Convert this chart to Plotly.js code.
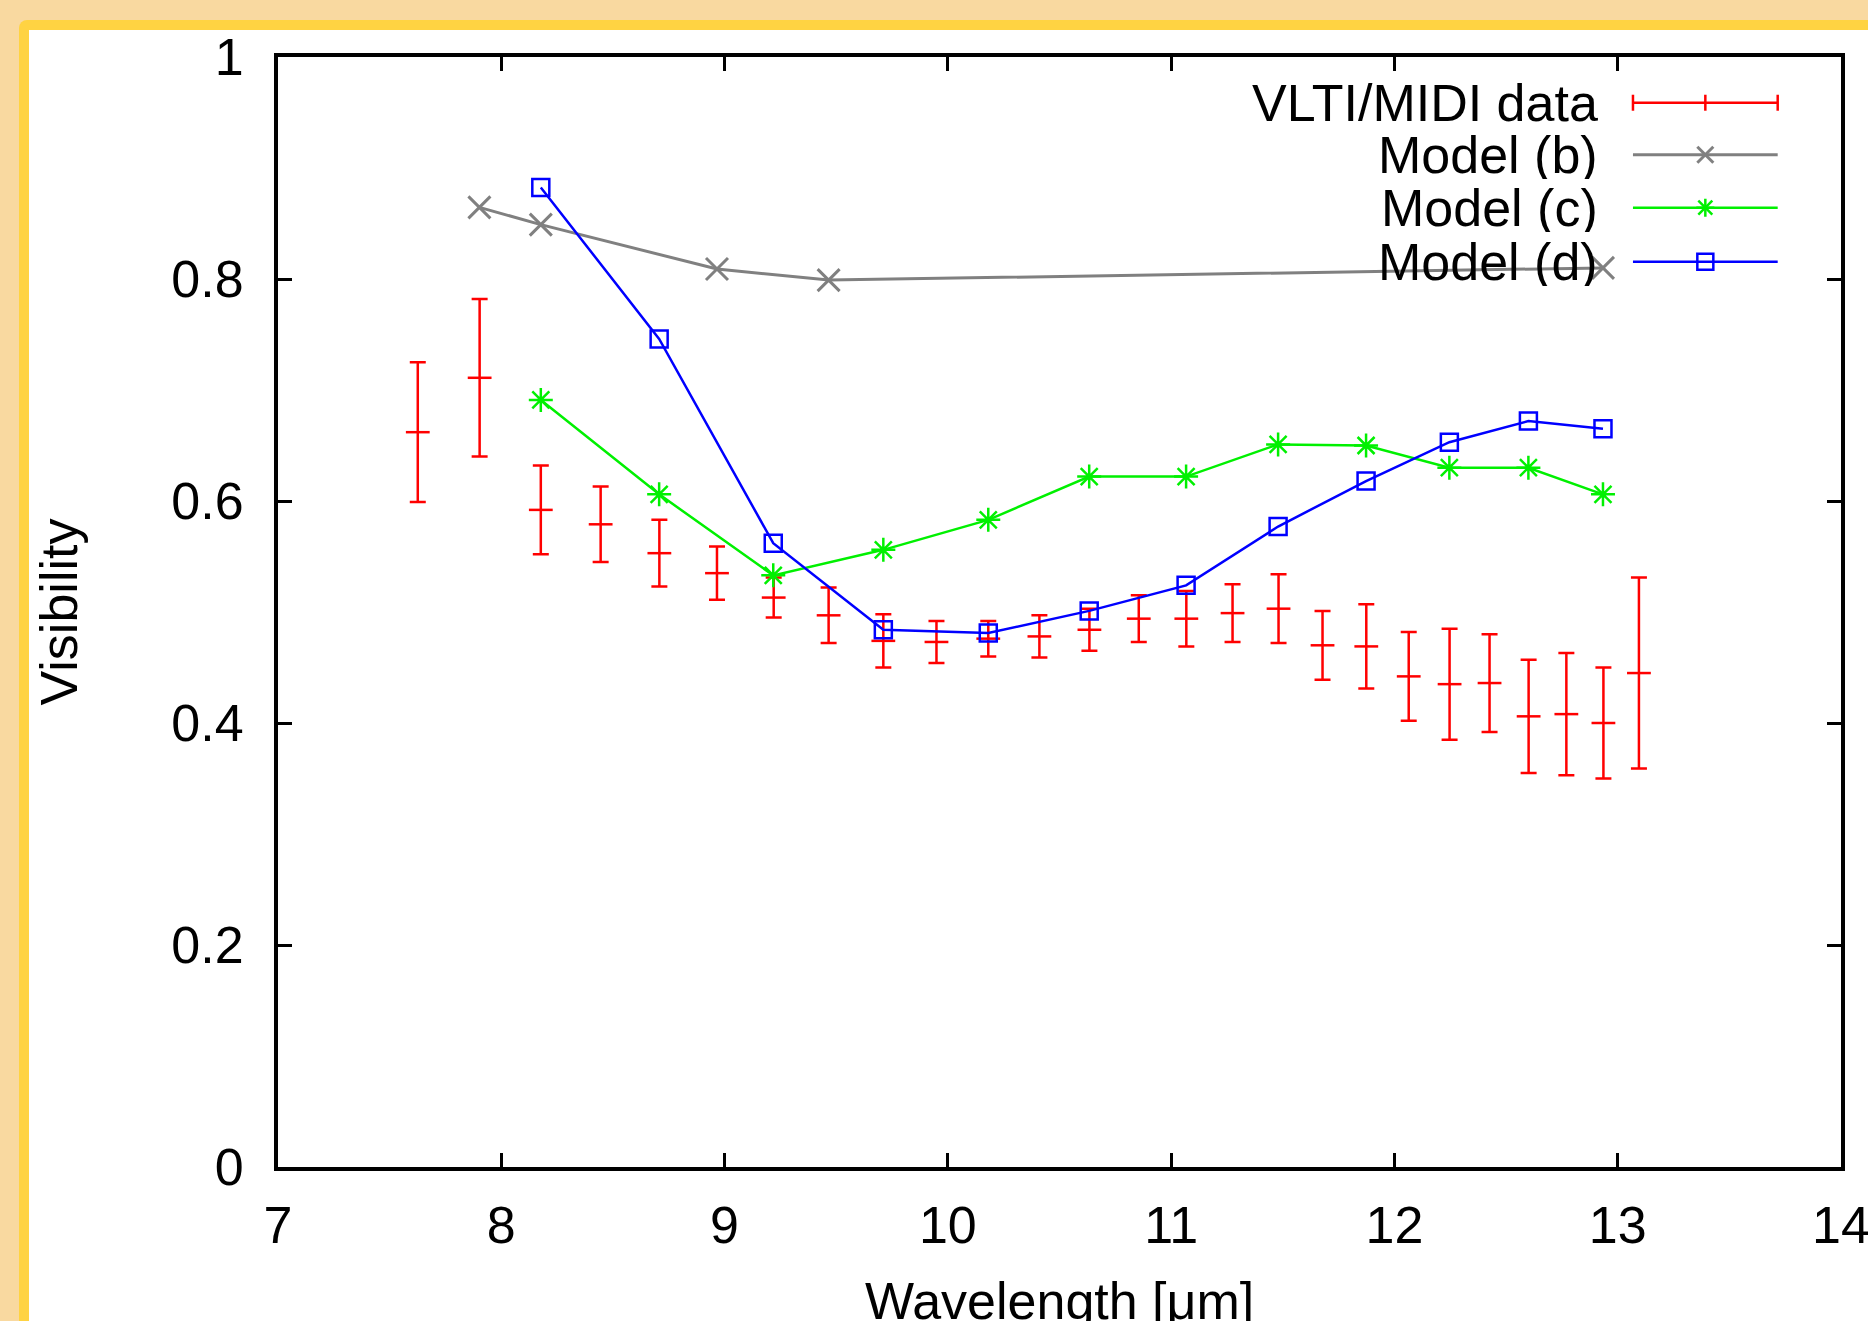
<!DOCTYPE html>
<html>
<head>
<meta charset="utf-8">
<script src="https://cdn.plot.ly/plotly-3.0.1.min.js"></script>
<style>
  html, body { margin: 0; padding: 0; width: 1868px; height: 1321px; overflow: hidden; background: #F9D9A0; }
  #frame { position: absolute; left: 19px; top: 20px; width: 1900px; height: 1400px; background: #FFD342; border-radius: 8px; }
  #inner { position: absolute; left: 29px; top: 30px; width: 1900px; height: 1400px; background: #ffffff; }
  #chart { position: absolute; left: 0; top: 0; width: 1868px; height: 1400px; }
</style>
</head>
<body>
<div id="frame"></div>
<div id="inner"></div>
<div id="chart"></div>
<script>
// ---- Data ----
const dataWavelength = [7.626, 7.903, 8.177, 8.445, 8.708, 8.966, 9.220, 9.466, 9.711, 9.949, 10.181, 10.410, 10.634,
                        10.855, 11.068, 11.275, 11.481, 11.678, 11.874, 12.064, 12.247, 12.426, 12.601, 12.770, 12.936, 13.095];
const dataVisibility = [0.662, 0.711, 0.592, 0.579, 0.553, 0.535, 0.513, 0.497, 0.474, 0.473, 0.476, 0.478, 0.484,
                        0.494, 0.494, 0.499, 0.503, 0.470, 0.469, 0.442, 0.435, 0.436, 0.406, 0.408, 0.400, 0.445];
const dataError = [0.063, 0.071, 0.040, 0.034, 0.030, 0.024, 0.018, 0.025, 0.024, 0.019, 0.016, 0.019, 0.019,
                   0.021, 0.025, 0.026, 0.031, 0.031, 0.038, 0.040, 0.050, 0.044, 0.051, 0.055, 0.050, 0.086];

const modelBWavelength = [7.902, 8.177, 8.966, 9.466, 12.934];
const modelBVisibility = [0.8645, 0.849, 0.809, 0.799, 0.810];

const modelWavelength = [8.177, 8.707, 9.218, 9.711, 10.181, 10.633, 11.067, 11.479, 11.873, 12.246, 12.600, 12.934];
const modelCVisibility = [0.691, 0.606, 0.533, 0.556, 0.583, 0.622, 0.622, 0.651, 0.650, 0.630, 0.630, 0.606];
const modelDVisibility = [0.8825, 0.746, 0.562, 0.484, 0.481, 0.501, 0.524, 0.577, 0.618, 0.653, 0.672, 0.665];

const legendLabels = ['VLTI/MIDI data', 'Model (b)', 'Model (c)', 'Model (d)'];
const xTickVals = [7, 8, 9, 10, 11, 12, 13, 14];
const yTickVals = [0, 0.2, 0.4, 0.6, 0.8, 1];
const yTickText = ['0', '0.2', '0.4', '0.6', '0.8', '1'];
const xTitle = 'Wavelength [μm]';
const yTitle = 'Visibility';

// ---- Styles ----
const RED = '#ff0000', GRAY = '#808080', GREEN = '#00f000', BLUE = '#0000ff';
const FONT = 'Liberation Sans, Arial, Helvetica, sans-serif';

const traces = [
  {
    x: dataWavelength, y: dataVisibility, type: 'scatter', mode: 'markers', name: legendLabels[0],
    marker: { symbol: 'line-ew', size: 17, color: RED, line: { color: RED, width: 2.5 } },
    error_y: { type: 'data', array: dataError, visible: true, color: RED, thickness: 2.5, width: 8 },
    showlegend: false
  },
  {
    x: modelBWavelength, y: modelBVisibility, type: 'scatter', mode: 'lines+markers', name: legendLabels[1],
    line: { color: GRAY, width: 3 },
    marker: { symbol: 'x-thin', size: 22, color: GRAY, line: { color: GRAY, width: 3 } },
    showlegend: false
  },
  {
    x: modelWavelength, y: modelCVisibility, type: 'scatter', mode: 'lines+markers', name: legendLabels[2],
    line: { color: GREEN, width: 2.5 },
    marker: { symbol: 'asterisk', size: 20, color: GREEN, line: { color: GREEN, width: 2.5 } },
    showlegend: false
  },
  {
    x: modelWavelength, y: modelDVisibility, type: 'scatter', mode: 'lines+markers', name: legendLabels[3],
    line: { color: BLUE, width: 2.5 },
    marker: { symbol: 'square-open', size: 17, color: BLUE, line: { color: BLUE, width: 2.5 } },
    showlegend: false
  }
];

// ---- Custom gnuplot-style legend (text right-aligned, sample on the right) ----
const legendRowsY = [0.9588, 0.9119, 0.8642, 0.8156];
const legendTextX = 0.8461, legendLineX0 = 0.8669, legendLineX1 = 0.9595, legendMidX = 0.9132;
const legendColors = [RED, GRAY, GREEN, BLUE];
const shapes = [];
const annotations = [];
legendLabels.forEach((lab, i) => {
  const yy = legendRowsY[i], col = legendColors[i];
  annotations.push({ xref: 'paper', yref: 'paper', x: legendTextX, y: yy, xanchor: 'right', yanchor: 'middle',
                     height: 48, valign: 'middle',
                     text: lab, showarrow: false, font: { family: FONT, size: 52, color: '#000' } });
  shapes.push({ type: 'line', xref: 'paper', yref: 'paper', x0: legendLineX0, x1: legendLineX1, y0: yy, y1: yy,
                line: { color: col, width: i === 1 ? 3 : 2.5 } });
  const pix = (dx0, dy0, dx1, dy1, xa, w) => ({
    type: 'line', xref: 'paper', yref: 'paper', xsizemode: 'pixel', ysizemode: 'pixel',
    xanchor: xa, yanchor: yy, x0: dx0, y0: dy0, x1: dx1, y1: dy1, line: { color: col, width: w } });
  if (i === 0) {
    shapes.push(pix(0, -8, 0, 8, legendLineX0, 2.5));
    shapes.push(pix(0, -8, 0, 8, legendLineX1, 2.5));
    shapes.push(pix(0, -8, 0, 8, legendMidX, 2.5));
  } else if (i === 1) {
    shapes.push(pix(-8, -8, 8, 8, legendMidX, 3));
    shapes.push(pix(-8, 8, 8, -8, legendMidX, 3));
  } else if (i === 2) {
    shapes.push(pix(-9, 0, 9, 0, legendMidX, 2.5));
    shapes.push(pix(0, -9, 0, 9, legendMidX, 2.5));
    shapes.push(pix(-7, -7, 7, 7, legendMidX, 2.5));
    shapes.push(pix(-7, 7, 7, -7, legendMidX, 2.5));
  } else {
    shapes.push({ type: 'rect', xref: 'paper', yref: 'paper', xsizemode: 'pixel', ysizemode: 'pixel',
                  xanchor: legendMidX, yanchor: yy, x0: -8, x1: 8, y0: -8, y1: 8,
                  line: { color: col, width: 2.5 }, fillcolor: 'rgba(0,0,0,0)' });
  }
});

// x-axis title placed like the reference (its lower part falls below the window edge)
annotations.push({ xref: 'paper', yref: 'paper', x: 0.5, y: -0.121, xanchor: 'center', yanchor: 'middle',
                   text: xTitle, showarrow: false, font: { family: FONT, size: 52, color: '#000' } });

const axisCommon = {
  showline: true, linecolor: '#000', linewidth: 4, mirror: 'ticks',
  ticks: 'inside', ticklen: 14, tickwidth: 3, tickcolor: '#000',
  showgrid: false, zeroline: false, ticklabeloverflow: 'allow',
  tickfont: { family: FONT, size: 52, color: '#000' }
};

const layout = {
  width: 1868, height: 1400,
  paper_bgcolor: 'rgba(0,0,0,0)', plot_bgcolor: 'rgba(0,0,0,0)',
  margin: { l: 278, r: 27, t: 57, b: 233, pad: 0 },
  showlegend: false,
  xaxis: Object.assign({}, axisCommon, {
    range: [7, 14], tickvals: xTickVals, ticklabelstandoff: 10,
    automargin: false
  }),
  yaxis: Object.assign({}, axisCommon, {
    range: [0, 1], tickvals: yTickVals, ticktext: yTickText, ticklabelstandoff: 20,
    title: { text: yTitle, font: { family: FONT, size: 52, color: '#000' }, standoff: 78 },
    automargin: false
  }),
  shapes: shapes,
  annotations: annotations
};

Plotly.newPlot('chart', traces, layout, { staticPlot: true, displayModeBar: false });
</script>
</body>
</html>
